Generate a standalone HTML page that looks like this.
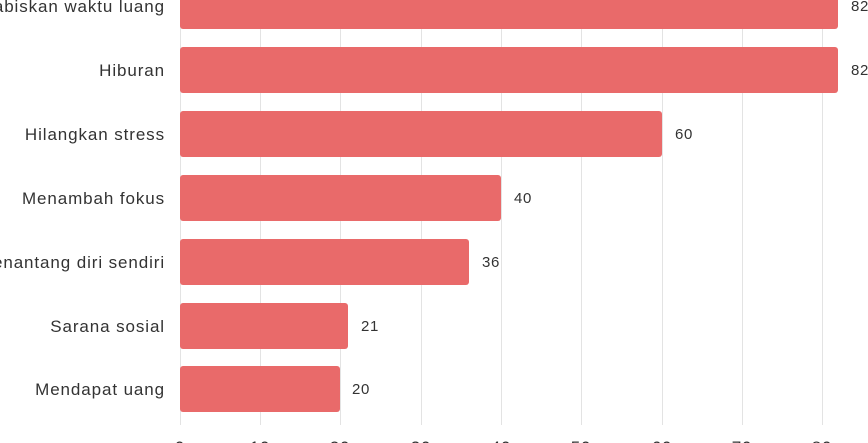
<!DOCTYPE html>
<html><head><style>
body{margin:0;width:868px;height:443px;overflow:hidden;background:#fff;font-family:"Liberation Sans",sans-serif;}
</style></head><body>
<svg width="868" height="443" xmlns="http://www.w3.org/2000/svg" style="position:absolute;left:0;top:0">
<g stroke="#e3e3e3" stroke-width="1">
<line x1="180.5" y1="0" x2="180.5" y2="425"/>
<line x1="260.5" y1="0" x2="260.5" y2="425"/>
<line x1="340.5" y1="0" x2="340.5" y2="425"/>
<line x1="421.5" y1="0" x2="421.5" y2="425"/>
<line x1="501.5" y1="0" x2="501.5" y2="425"/>
<line x1="581.5" y1="0" x2="581.5" y2="425"/>
<line x1="662.5" y1="0" x2="662.5" y2="425"/>
<line x1="742.5" y1="0" x2="742.5" y2="425"/>
<line x1="822.5" y1="0" x2="822.5" y2="425"/>
</g>
<g fill="#e96a6a">
<rect x="180" y="-17" width="658" height="46" rx="3"/>
<rect x="180" y="47" width="658" height="46" rx="3"/>
<rect x="180" y="111" width="482" height="46" rx="3"/>
<rect x="180" y="175" width="321" height="46" rx="3"/>
<rect x="180" y="239" width="289" height="46" rx="3"/>
<rect x="180" y="303" width="168" height="46" rx="3"/>
<rect x="180" y="366" width="160" height="46" rx="3"/>
</g>
<g font-size="17" fill="#333" text-anchor="end" letter-spacing="0.9">
<text x="165" y="12">Habiskan waktu luang</text>
<text x="165" y="76">Hiburan</text>
<text x="165" y="140">Hilangkan stress</text>
<text x="165" y="204">Menambah fokus</text>
<text x="165" y="268">Menantang diri sendiri</text>
<text x="165" y="332">Sarana sosial</text>
<text x="165" y="395">Mendapat uang</text>
</g>
<g font-size="15" fill="#333" letter-spacing="0.6">
<text x="851" y="11">82</text>
<text x="851" y="75">82</text>
<text x="675" y="139">60</text>
<text x="514" y="203">40</text>
<text x="482" y="267">36</text>
<text x="361" y="331">21</text>
<text x="352" y="394">20</text>
</g>
<g font-size="17" fill="#333" text-anchor="middle" letter-spacing="0.8">
<text x="180" y="453">0</text><text x="260" y="453">10</text><text x="340" y="453">20</text>
<text x="421" y="453">30</text><text x="501" y="453">40</text><text x="581" y="453">50</text>
<text x="662" y="453">60</text><text x="742" y="453">70</text><text x="822" y="453">80</text>
</g>
</svg>
</body></html>
